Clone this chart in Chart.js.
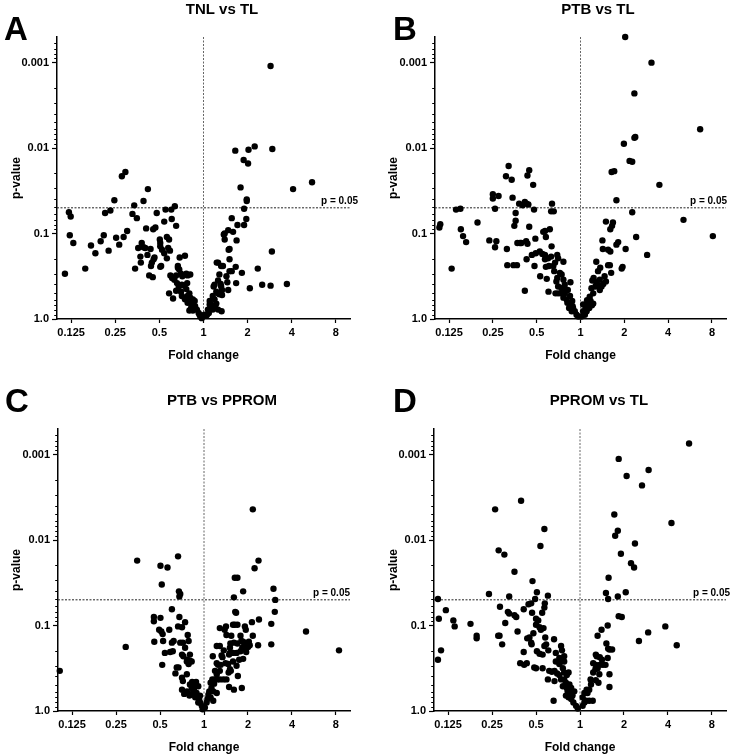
<!DOCTYPE html>
<html>
<head>
<meta charset="utf-8">
<script src="https://cdn.jsdelivr.net/npm/chart.js@4.4.1/dist/chart.umd.min.js"></script>
<style>
  body { margin: 0; background: #fff; width: 733px; height: 756px; position: relative; overflow: hidden; }
  canvas { position: absolute; }
</style>
</head>
<body>
<canvas id="panel-a"></canvas>
<canvas id="panel-b"></canvas>
<canvas id="panel-c"></canvas>
<canvas id="panel-d"></canvas>
<script>
// volcano data: [log2 fold change, -log10 p-value]
const tnlVsTl = [
  [1.52,2.96],[1.56,1.99],[1.16,2.02],[1.02,1.98],[0.72,1.97],[0.91,1.86],[1.01,1.82],[2.46,1.60],[2.03,1.52],[0.84,1.54],
  [0.98,1.40],[0.98,1.38],[0.92,1.29],[0.97,1.17],[0.92,1.10],[0.64,1.18],[0.77,1.10],[0.56,1.04],[0.48,1.00],[0.46,0.99],
  [0.67,1.02],[0.75,0.92],[0.48,0.93],[0.59,0.82],[0.57,0.81],[1.55,0.79],[0.59,0.70],[0.33,0.66],[0.40,0.62],[0.44,0.62],
  [0.73,0.61],[1.23,0.59],[0.87,0.54],[0.64,0.56],[0.59,0.56],[0.36,0.52],[0.52,0.50],[0.33,0.45],[0.54,0.43],[0.39,0.41],
  [0.25,0.40],[0.74,0.42],[1.05,0.36],[1.33,0.40],[1.52,0.39],[1.89,0.41],[0.23,0.38],[0.40,0.38],[0.42,0.34],[0.56,0.34],
  [0.29,0.32],[0.33,0.30],[0.36,0.29],[0.42,0.28],[0.21,0.27],[0.25,0.23],[0.14,0.21],[0.14,0.17],[0.17,0.17],[0.29,0.18],
  [0.33,0.11],[0.21,0.11],[0.10,0.11],[0.02,0.05],[0.08,0.05],[0.12,0.07],[-0.02,0.03],[0.30,0.66],[0.18,0.13],[0.27,0.13],
  [0.41,0.09],[0.06,0.04],
  [-1.77,1.72],[-1.85,1.67],[-1.26,1.52],[-2.02,1.39],[-1.36,1.38],[-1.57,1.33],[-2.11,1.27],[-2.23,1.24],[-1.61,1.23],[-0.65,1.32],
  [-0.73,1.28],[-0.86,1.28],[-1.06,1.24],[-1.51,1.18],[-0.72,1.17],[-0.89,1.14],[-0.62,1.09],[-1.30,1.06],[-1.09,1.07],[-1.14,1.05],
  [-1.73,1.03],[-3.05,1.25],[-3.01,1.20],[-3.03,0.98],[-2.95,0.89],[-0.99,0.93],[-0.98,0.89],[-0.98,0.85],[-0.83,0.96],[-0.78,0.93],
  [-1.98,0.95],[-1.81,0.96],[-2.26,0.98],[-2.33,0.91],[-1.91,0.87],[-2.15,0.80],[-2.55,0.86],[-2.45,0.77],[-2.68,0.59],[-3.14,0.53],
  [-1.40,0.89],[-1.36,0.84],[-1.32,0.83],[-1.48,0.83],[-1.20,0.82],[-1.27,0.75],[-1.11,0.72],[-1.13,0.70],[-0.94,0.81],[-0.89,0.77],
  [-0.80,0.83],[-0.83,0.71],[-0.76,0.80],[-1.43,0.73],[-1.42,0.66],[-1.55,0.59],[-1.17,0.66],[-1.19,0.62],[-0.96,0.62],[-0.98,0.61],
  [-1.23,0.51],[-1.15,0.49],[-0.54,0.72],[-0.42,0.74],[-0.58,0.62],[-0.58,0.60],[-0.55,0.58],[-0.75,0.51],[-0.71,0.48],[-0.66,0.46],
  [-0.62,0.51],[-0.51,0.53],[-0.48,0.50],[-0.39,0.53],[-0.36,0.51],[-0.30,0.52],[-0.60,0.42],[-0.49,0.40],[-0.43,0.39],[-0.37,0.42],
  [-0.56,0.38],[-0.78,0.30],[-0.69,0.24],[-0.62,0.33],[-0.51,0.32],[-0.39,0.35],[-0.49,0.27],[-0.32,0.30],[-0.36,0.27],[-0.30,0.25],
  [-0.42,0.23],[-0.24,0.23],[-0.36,0.19],[-0.28,0.18],[-0.20,0.21],[-0.19,0.15],[-0.28,0.13],[-0.32,0.10],[-0.24,0.10],[-0.15,0.11],
  [-0.11,0.07],[-0.09,0.05],[-0.07,0.03],[-0.04,0.01]
];

const ptbVsTl = [
  [1.02,3.30],[1.62,3.00],[1.23,2.64],[2.73,2.22],[1.25,2.13],[1.23,2.12],[0.99,2.05],[1.12,1.85],[1.18,1.84],[0.71,1.72],
  [0.77,1.73],[1.80,1.57],[0.82,1.39],[1.18,1.25],[2.35,1.16],[3.02,0.97],[1.27,0.96],[1.03,0.82],[1.52,0.75],[0.58,1.14],
  [0.74,1.13],[0.72,1.09],[0.68,1.05],[0.50,0.92],[0.51,0.82],[0.63,0.81],[0.68,0.79],[0.86,0.90],[0.82,0.87],[0.67,0.63],
  [0.63,0.63],[0.94,0.59],[0.96,0.61],[0.36,0.67],[0.45,0.60],[0.40,0.56],[0.70,0.54],[0.55,0.50],[0.30,0.48],[0.27,0.45],
  [0.36,0.43],[0.44,0.46],[0.52,0.41],[0.58,0.44],[0.42,0.39],[0.48,0.38],[0.34,0.38],[0.25,0.36],[0.29,0.30],[0.44,0.34],
  [0.21,0.26],[0.15,0.22],[0.23,0.21],[0.29,0.18],[0.17,0.17],[0.12,0.13],[0.20,0.13],[0.06,0.09],[0.14,0.09],[0.10,0.05],
  [0.02,0.03],[0.06,0.17],[0.26,0.16],
  [-1.64,1.79],[-1.70,1.67],[-1.57,1.63],[-1.17,1.74],[-1.21,1.68],[-1.08,1.57],[-1.55,1.42],[-2.00,1.46],[-2.00,1.41],[-1.87,1.44],
  [-1.95,1.29],[-1.40,1.35],[-1.27,1.37],[-1.23,1.35],[-1.19,1.34],[-1.32,1.33],[-1.06,1.28],[-0.65,1.35],[-0.67,1.26],[-0.61,1.26],
  [-1.48,1.24],[-1.48,1.15],[-1.51,1.09],[-1.17,1.08],[-2.84,1.28],[-2.74,1.29],[-3.20,1.11],[-3.22,1.07],[-2.73,1.05],[-2.68,0.97],
  [-2.61,0.90],[-2.35,1.13],[-2.08,0.92],[-1.92,0.91],[-1.95,0.84],[-1.68,0.82],[-1.44,0.89],[-1.38,0.89],[-1.35,0.89],[-1.24,0.91],
  [-1.21,0.88],[-1.03,0.94],[-0.85,1.02],[-0.81,1.03],[-0.70,1.05],[-0.79,0.96],[-0.93,0.79],[-1.11,0.75],[-1.02,0.77],[-0.87,0.76],
  [-0.81,0.75],[-0.66,0.85],[-0.67,0.73],[-0.53,0.75],[-0.51,0.71],[-0.74,0.71],[-1.23,0.70],[-1.05,0.62],[-1.67,0.63],[-1.53,0.63],
  [-1.45,0.63],[-2.94,0.59],[-0.81,0.70],[-0.79,0.61],[-0.72,0.62],[-0.62,0.62],[-0.58,0.66],[-0.39,0.67],[-0.92,0.50],[-0.77,0.47],
  [-0.60,0.56],[-0.47,0.54],[-0.43,0.52],[-0.53,0.48],[-0.55,0.44],[-0.39,0.46],[-0.23,0.43],[-0.51,0.38],[-0.43,0.36],[-0.35,0.35],
  [-0.73,0.32],[-0.57,0.30],[-0.51,0.30],[-0.45,0.30],[-0.36,0.30],[-0.29,0.34],[-1.27,0.33],[-0.39,0.25],[-0.32,0.23],[-0.24,0.27],
  [-0.30,0.19],[-0.24,0.18],[-0.19,0.21],[-0.26,0.13],[-0.17,0.13],[-0.20,0.09],[-0.13,0.09],[-0.09,0.05],[-0.05,0.03],[-0.36,0.40],
  [-0.18,0.15]
];

const ptbVsPprom = [
  [1.11,2.36],[1.24,1.76],[1.15,1.67],[1.58,1.43],[1.62,1.30],[1.61,1.16],[0.89,1.40],[0.70,1.56],[0.76,1.56],[0.68,1.33],
  [0.71,1.16],[0.73,1.15],[0.50,0.99],[0.36,0.97],[0.47,0.95],[0.51,0.89],[0.66,1.01],[0.70,1.01],[0.76,1.01],[0.93,0.99],
  [1.09,1.04],[1.25,1.07],[1.53,1.02],[0.95,0.95],[0.83,0.88],[0.62,0.88],[1.11,0.88],[0.85,0.82],[0.89,0.81],[1.02,0.81],
  [0.68,0.80],[0.60,0.79],[0.76,0.79],[0.36,0.76],[0.29,0.76],[0.92,0.77],[1.23,0.77],[1.00,0.75],[1.04,0.77],[1.53,0.78],
  [0.87,0.74],[0.96,0.69],[0.59,0.74],[0.45,0.71],[0.83,0.70],[0.95,0.72],[0.66,0.68],[0.59,0.68],[0.74,0.68],[0.20,0.64],
  [0.40,0.65],[0.42,0.63],[0.57,0.66],[0.89,0.61],[0.80,0.60],[0.66,0.58],[0.49,0.56],[0.55,0.55],[0.29,0.56],[0.32,0.54],
  [0.38,0.54],[0.74,0.53],[0.59,0.49],[0.25,0.47],[0.36,0.47],[0.29,0.43],[0.56,0.45],[0.61,0.47],[0.77,0.41],[0.19,0.37],
  [0.25,0.37],[0.30,0.37],[0.36,0.37],[0.44,0.37],[0.51,0.37],[0.15,0.33],[0.23,0.32],[0.57,0.28],[0.68,0.25],[0.17,0.27],
  [0.12,0.23],[0.21,0.23],[0.29,0.21],[0.10,0.19],[0.15,0.16],[0.21,0.12],[0.06,0.10],[0.02,0.04],[2.32,0.93],[3.07,0.71],
  [0.86,0.27],[0.08,0.14],
  [-1.52,1.76],[-0.59,1.81],[-0.99,1.70],[-0.83,1.68],[-0.96,1.48],[-0.57,1.40],[-0.54,1.37],[-0.56,1.34],[-0.73,1.19],[-1.14,1.10],
  [-1.14,1.05],[-0.99,1.09],[-0.56,1.10],[-0.43,1.04],[-0.50,0.98],[-0.59,0.99],[-1.02,0.95],[-0.97,0.93],[-0.94,0.90],[-0.79,0.95],
  [-0.69,0.82],[-0.73,0.80],[-0.93,0.82],[-1.13,0.81],[-0.37,0.89],[-0.54,0.80],[-0.48,0.80],[-0.35,0.82],[-0.43,0.74],[-1.78,0.75],
  [-3.28,0.47],[-0.89,0.68],[-0.77,0.69],[-0.71,0.70],[-0.95,0.54],[-0.50,0.66],[-0.32,0.66],[-0.47,0.64],[-0.38,0.60],[-0.32,0.59],
  [-0.58,0.51],[-0.62,0.51],[-0.39,0.58],[-0.35,0.55],[-0.28,0.58],[-0.65,0.44],[-0.50,0.39],[-0.48,0.35],[-0.39,0.43],[-0.27,0.34],
  [-0.24,0.33],[-0.18,0.34],[-0.32,0.31],[-0.20,0.29],[-0.13,0.29],[-0.28,0.27],[-0.23,0.25],[-0.50,0.25],[-0.39,0.23],[-0.45,0.20],
  [-0.33,0.18],[-0.28,0.20],[-0.17,0.21],[-0.11,0.14],[-0.09,0.10],[-0.05,0.06],[-0.13,0.10],[-0.20,0.16],[-0.09,0.18],[-0.03,0.02]
];

const ppromVsTl = [
  [2.48,3.13],[0.88,2.95],[1.56,2.82],[1.06,2.75],[1.41,2.64],[2.08,2.20],[0.78,2.30],[0.86,2.11],[0.80,2.05],[1.25,1.96],
  [0.93,1.84],[1.16,1.73],[1.23,1.68],[0.65,1.56],[0.59,1.38],[1.04,1.39],[0.86,1.34],[0.64,1.31],[0.88,1.11],[0.95,1.10],
  [1.94,0.99],[0.63,1.00],[0.49,0.95],[1.55,0.92],[0.40,0.88],[1.34,0.82],[2.20,0.77],[0.60,0.79],[0.64,0.73],[0.67,0.72],
  [0.73,0.72],[0.36,0.66],[0.38,0.64],[0.45,0.63],[0.63,0.62],[0.50,0.60],[0.30,0.56],[0.36,0.54],[0.45,0.54],[0.52,0.54],
  [0.58,0.54],[0.35,0.49],[0.40,0.50],[0.67,0.43],[0.30,0.45],[0.44,0.43],[0.24,0.37],[0.36,0.36],[0.25,0.31],[0.42,0.33],
  [0.67,0.28],[0.15,0.25],[0.21,0.25],[0.10,0.21],[0.17,0.21],[0.06,0.16],[0.14,0.12],[0.29,0.12],[0.06,0.06],[0.10,0.10],
  [0.21,0.12],
  [-1.34,2.46],[-1.93,2.36],[-0.81,2.13],[-0.90,1.93],[-1.85,1.88],[-1.72,1.83],[-1.49,1.63],[-1.08,1.52],[-0.98,1.39],[-2.07,1.37],
  [-1.61,1.34],[-0.73,1.35],[-3.23,1.31],[-1.02,1.31],[-1.11,1.26],[-1.17,1.25],[-1.82,1.22],[-0.80,1.26],[-3.05,1.18],[-1.28,1.19],
  [-0.81,1.21],[-1.64,1.16],[-1.61,1.14],[-0.86,1.15],[-1.09,1.15],[-3.21,1.08],[-1.00,1.08],[-0.95,1.06],[-1.49,1.12],[-1.45,1.10],
  [-1.70,1.03],[-2.88,1.06],[-2.85,0.99],[-2.49,1.02],[-1.00,1.01],[-0.92,0.98],[-0.89,0.95],[-0.83,0.97],[-1.42,0.93],[-1.83,0.88],
  [-1.86,0.88],[-2.35,0.88],[-2.35,0.85],[-1.06,0.91],[-1.77,0.78],[-1.20,0.85],[-1.15,0.86],[-1.11,0.80],[-1.10,0.78],[-0.79,0.86],
  [-0.59,0.84],[-0.77,0.78],[-0.81,0.76],[-3.16,0.71],[-1.28,0.69],[-0.98,0.70],[-0.92,0.67],[-0.72,0.71],[-0.85,0.66],[-0.43,0.76],
  [-0.41,0.71],[-0.55,0.68],[-0.36,0.64],[-0.47,0.62],[-3.23,0.60],[-1.36,0.56],[-1.27,0.54],[-1.21,0.56],[-1.04,0.51],[-1.00,0.50],
  [-0.55,0.58],[-0.47,0.55],[-0.43,0.58],[-0.36,0.58],[-0.85,0.50],[-0.70,0.47],[-0.64,0.46],[-0.58,0.47],[-0.39,0.50],[-0.52,0.44],
  [-0.47,0.42],[-0.73,0.37],[-0.58,0.35],[-0.36,0.45],[-0.30,0.42],[-0.26,0.45],[-0.43,0.37],[-0.36,0.37],[-0.32,0.33],[-0.24,0.31],
  [-0.39,0.29],[-0.20,0.27],[-0.28,0.23],[-0.20,0.21],[-0.60,0.12],[-0.32,0.18],[-0.26,0.16],[-0.17,0.18],[-0.20,0.14],[-0.15,0.10],
  [-0.09,0.06],[-0.05,0.03],[-0.13,0.23],[-0.30,0.27]
];

const panelLetters = ['A', 'B', 'C', 'D'];
const panelTitles = ['TNL vs TL', 'PTB vs TL', 'PTB vs PPROM', 'PPROM vs TL'];
const xTickValues = [-3, -2, -1, 0, 1, 2, 3];          // log2 fold change
const xTickLabels = ['0.125', '0.25', '0.5', '1', '2', '4', '8'];
const yTickValues = [0, 1, 2, 3];                       // -log10 p
const yTickLabels = ['1.0', '0.1', '0.01', '0.001'];
const pThreshold = 0.05;

const FONT = "'Liberation Sans', Arial, Helvetica, sans-serif";
const X_MIN = -3.32, X_MAX = 3.32;   // 0.1 .. 10
const Y_MIN = 0, Y_MAX = 3.3;        // p 1.0 .. 0.0005
const X_AXIS_H = 45;

Chart.defaults.font.family = FONT;
Chart.defaults.color = '#000';

// letter, title, p-label drawn on top of each panel
const panelText = {
  id: 'panelText',
  afterDraw(chart, args, o) {
    const ctx = chart.ctx;
    ctx.save();
    ctx.fillStyle = '#000';
    ctx.font = 'bold 33px ' + FONT;
    ctx.textAlign = 'left';
    ctx.textBaseline = 'alphabetic';
    ctx.fillText(o.letter, o.letterX, o.letterY);

    ctx.font = 'bold 15px ' + FONT;
    ctx.textAlign = 'center';
    ctx.textBaseline = 'middle';
    ctx.fillText(o.title, o.titleX, o.titleY);

    const yLine = chart.scales.y.getPixelForValue(-Math.log10(pThreshold));
    ctx.font = 'bold 10px ' + FONT;
    ctx.textAlign = 'right';
    ctx.textBaseline = 'alphabetic';
    ctx.fillText('p = ' + pThreshold, o.pLabelX, yLine - 4);
    ctx.restore();
  }
};

function yMinorTicks() {
  const t = [];
  for (let d = 0; d <= 4; d++) {
    for (let k = 1; k <= 9; k++) {
      const v = d - Math.log10(k);
      if (v >= Y_MIN - 1e-9 && v <= Y_MAX + 1e-9) t.push({ value: v, major: k === 1 });
    }
  }
  return t;
}

function makePanel(p) {
  const cv = document.getElementById(p.id);
  cv.width = p.w;
  cv.height = p.h;
  cv.style.left = p.left + 'px';
  cv.style.top = p.top + 'px';
  const pLine = -Math.log10(pThreshold);

  return new Chart(cv, {
    type: 'scatter',
    data: {
      datasets: [
        {
          data: p.points.map(d => ({ x: d[0], y: d[1] })),
          backgroundColor: '#000',
          borderWidth: 0,
          pointRadius: 3.2,
          pointHoverRadius: 3.2,
          clip: false
        },
        {
          data: [{ x: X_MIN, y: pLine }, { x: X_MAX, y: pLine }],
          showLine: true, borderColor: '#222', borderWidth: 1, borderDash: [2, 1.5], pointRadius: 0
        },
        {
          data: [{ x: 0, y: Y_MIN }, { x: 0, y: Y_MAX }],
          showLine: true, borderColor: '#666', borderWidth: 1, borderDash: [2, 1.5], pointRadius: 0
        }
      ]
    },
    options: {
      responsive: false,
      animation: false,
      events: [],
      layout: {
        padding: {
          left: 0,
          top: p.T - p.top,
          right: p.left + p.w - p.R,
          bottom: p.top + p.h - p.B - X_AXIS_H
        }
      },
      plugins: {
        legend: { display: false },
        tooltip: { enabled: false },
        panelText: {
          letter: p.letter, letterX: p.letterX - p.left, letterY: p.letterY - p.top,
          title: p.title, titleX: p.titleX - p.left, titleY: p.titleY - p.top,
          pLabelX: p.pLabelX - p.left
        }
      },
      scales: {
        x: {
          type: 'linear', min: X_MIN, max: X_MAX,
          afterFit: s => { s.height = X_AXIS_H; },
          afterBuildTicks: s => { s.ticks = xTickValues.map(v => ({ value: v, major: true })); },
          ticks: {
            autoSkip: false, maxRotation: 0, padding: 3,
            font: { size: 11, weight: 'bold' },
            callback: v => { const i = xTickValues.indexOf(v); return i >= 0 ? xTickLabels[i] : ''; }
          },
          grid: { display: true, drawOnChartArea: false, tickLength: 4, tickColor: '#000', tickWidth: 1.2 },
          border: { color: '#000', width: 1.5 },
          title: { display: true, text: 'Fold change', font: { size: 12, weight: 'bold' }, padding: { top: 0, bottom: 1 } }
        },
        y: {
          type: 'linear', min: Y_MIN, max: Y_MAX,
          afterFit: s => { s.width = p.L - p.left; },
          afterBuildTicks: s => { s.ticks = yMinorTicks(); },
          ticks: {
            autoSkip: false, padding: 3,
            font: { size: 11, weight: 'bold' },
            callback: v => {
              const i = yTickValues.findIndex(t => Math.abs(t - v) < 1e-9);
              return i >= 0 ? yTickLabels[i] : '';
            }
          },
          grid: {
            display: true, drawOnChartArea: false, tickLength: 5, tickColor: '#000', tickWidth: 1.2,
            tickBorderDash: c => (c.tick && c.tick.major) ? [] : [0, 2.2, 4, 10]
          },
          border: { color: '#000', width: 1.5 },
          title: { display: true, text: 'p-value', font: { size: 12, weight: 'bold' }, padding: { top: 9, bottom: 0 } }
        }
      }
    },
    plugins: [panelText]
  });
}

const panels = [
  { id: 'panel-a', left: 0,   top: 0,   w: 370, h: 378, L: 57,  R: 350, T: 37,  B: 319, titleX: 222, titleY: 10,  letterX: 4,   letterY: 40,  pLabelX: 358, points: tnlVsTl },
  { id: 'panel-b', left: 377, top: 0,   w: 356, h: 378, L: 435, R: 726, T: 37,  B: 319, titleX: 598, titleY: 10,  letterX: 393, letterY: 40,  pLabelX: 727, points: ptbVsTl },
  { id: 'panel-c', left: 0,   top: 378, w: 370, h: 378, L: 58,  R: 350, T: 429, B: 711, titleX: 222, titleY: 401, letterX: 5,   letterY: 412, pLabelX: 350, points: ptbVsPprom },
  { id: 'panel-d', left: 377, top: 378, w: 356, h: 378, L: 434, R: 726, T: 429, B: 711, titleX: 599, titleY: 401, letterX: 393, letterY: 412, pLabelX: 730, points: ppromVsTl }
];

panels.forEach((p, i) => {
  p.letter = panelLetters[i];
  p.title = panelTitles[i];
  makePanel(p);
});
</script>
</body>
</html>
